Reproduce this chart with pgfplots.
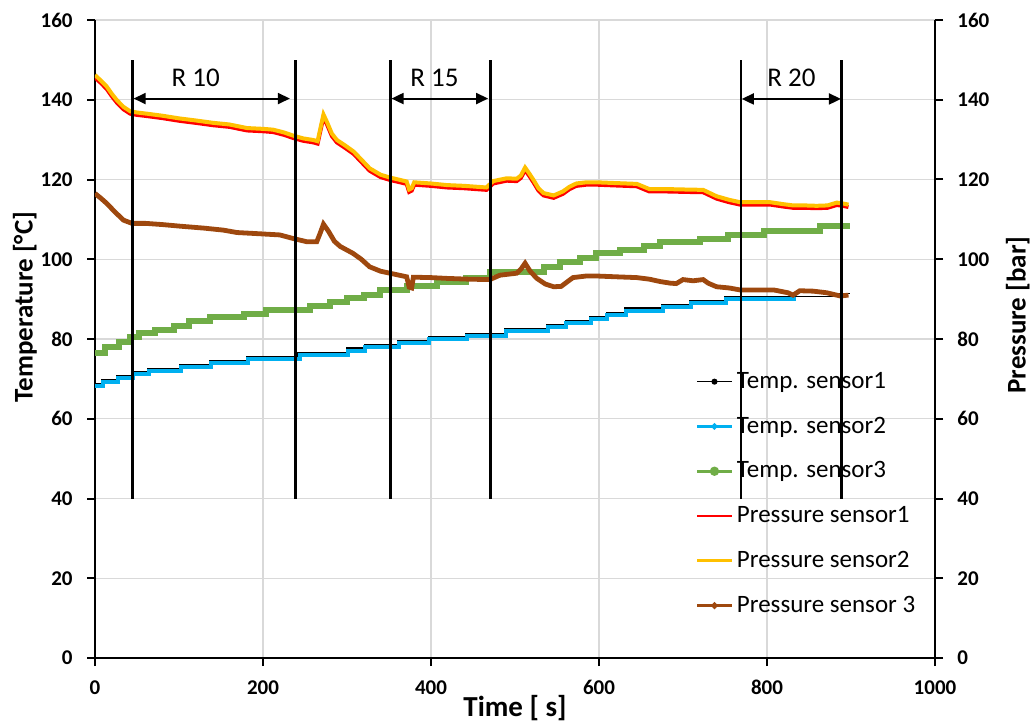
\documentclass[border=0pt]{standalone}
\usepackage{fontspec}
\setmainfont{Carlito}
\usepackage{pgfplots}
\pgfplotsset{compat=1.18}
\usetikzlibrary{arrows.meta,calc}

\definecolor{tblack}{RGB}{0,0,0}
\definecolor{tblue}{RGB}{0,176,240}
\definecolor{tgreen}{RGB}{112,173,71}
\definecolor{pred}{RGB}{255,0,0}
\definecolor{pyellow}{RGB}{255,192,0}
\definecolor{pbrown}{RGB}{158,72,14}
\definecolor{gridgray}{RGB}{217,217,217}

\pgfplotsset{
  base/.style={
    width=420pt, height=319pt, scale only axis,
    xmin=0, xmax=1000, ymin=0, ymax=160,
    xtick={0,200,...,1000}, ytick={0,20,...,160},
    /pgf/number format/assume math mode=true,
    /pgf/number format/1000 sep={},
    tick label style={font=\fontsize{10.5}{12}\selectfont\bfseries, inner sep=0pt},
    tick align=outside, major tick length=4pt,
    tick style={line width=1pt, black},
    axis line style={line width=1.4pt, -},
  },
}

\begin{document}
\begin{tikzpicture}
\begin{axis}[base, name=ax,
  axis x line*=bottom, axis y line*=left,
  grid=major, grid style={gridgray, line width=0.6pt},
  xticklabel style={yshift=-7pt},
  yticklabel style={xshift=-7pt},
  xlabel={Time [ s]}, ylabel={Temperature [°C]},
  every axis x label/.style={at={(axis description cs:0.5,0)}, anchor=base, yshift=-29.3pt,
    font=\fontsize{14.5}{16}\selectfont\bfseries},
  every axis y label/.style={at={(axis description cs:0,0.55)}, xshift=-31.2pt, rotate=90, anchor=base,
    font=\fontsize{13.5}{16}\selectfont\bfseries},
  legend style={draw=none, fill=none, at={(0.715,0.455)}, anchor=north west,
    font=\fontsize{12.5}{15}\selectfont, row sep=8.8pt, inner sep=0pt,
    /tikz/every even column/.append style={column sep=2pt}},
  legend cell align=left,
]
% Temp. sensor1
\addplot[tblack, line width=0.8pt, const plot, forget plot] coordinates {
(0,68.7)(8,69.7)(26,70.7)(44,71.7)(63,72.6)(101,73.6)(137,74.6)(181,75.6)(242,76.6)
(300,77.7)(321,78.6)(361,79.5)(397,80.5)(442,81.4)(488,82.6)(538,83.6)(560,84.5)
(589,85.6)(609,86.6)(631,87.7)(675,88.6)(708,89.7)(750,90.7)(887,91.4)(899,91.4)};
% Temp. sensor2
\addplot[tblue, line width=2pt, const plot, forget plot] coordinates {
(0,68.1)(9,69.1)(27,70.1)(45,71.1)(64,72.0)(102,73.0)(138,74.0)(182,75.0)(244,76.0)
(301,77.1)(322,78.0)(362,78.9)(398,79.9)(443,80.8)(489,82.0)(539,83.0)(561,83.9)
(590,85.0)(610,86.0)(632,87.1)(676,88.0)(709,89.1)(751,90.1)(835,90.1)};
% Temp. sensor3
\addplot[tgreen, line width=3pt, const plot, forget plot] coordinates {
(0,76.6)(12,78.1)(28,79.3)(42,80.6)(52,81.4)(72,82.3)(94,83.3)(112,84.4)(137,85.4)
(177,86.3)(204,87.3)(256,88.3)(280,89.3)(300,90.3)(320,91.1)(339,92.3)(371,93.4)
(407,94.2)(442,95.3)(470,96.7)(534,98.1)(554,99.4)(577,100.2)(597,101.5)(625,102.3)
(653,103.2)(673,104.3)(720,105.1)(754,106.1)(796,107.2)(863,108.3)(899,108.3)};
% Pressure sensor1
\addplot[pred, line width=2pt, forget plot] coordinates {
(0,145.6)(7,144.2)(14,142.7)(20,140.9)(26,139.3)(34,137.6)(42,136.5)(50,136.2)(62,135.9)
(80,135.4)(101,134.7)(120,134.2)(141,133.6)(160,133.2)(181,132.3)(200,132.1)(212,131.9)
(225,131.2)(236,130.4)(248,129.7)(260,129.3)(265,129.0)(268,131.9)(272,135.7)(276,133.9)
(282,130.9)(288,129.3)(298,127.9)(308,126.4)(318,124.2)(327,122.2)(340,120.6)(351,119.9)
(365,119.2)(371,118.9)(374,116.9)(377,117.2)(380,118.7)(400,118.4)(419,118.0)(440,117.8)
(466,117.4)(474,119.0)(490,119.7)(502,119.6)(507,120.4)(512,122.4)(517,120.9)(522,119.3)
(528,117.2)(534,116.0)(546,115.4)(557,116.4)(565,117.6)(573,118.4)(585,118.7)(597,118.7)
(620,118.5)(645,118.3)(660,117.0)(680,117.0)(700,116.9)(724,116.8)(740,115.2)(755,114.3)
(768,113.7)(790,113.7)(804,113.7)(820,113.2)(831,112.9)(845,112.9)(859,112.8)(872,112.9)
(883,113.6)(890,113.4)(897,113.1)};
% Pressure sensor2
\addplot[pyellow, line width=2pt, forget plot] coordinates {
(0,146.2)(7,144.8)(14,143.3)(20,141.5)(26,139.9)(34,138.2)(42,137.1)(50,136.8)(62,136.5)
(80,136.0)(101,135.3)(120,134.8)(141,134.2)(160,133.8)(181,132.9)(200,132.7)(212,132.5)
(225,131.8)(236,131.0)(248,130.3)(260,129.9)(265,129.6)(268,132.5)(272,136.3)(276,134.5)
(282,131.5)(288,129.9)(298,128.5)(308,127.0)(318,124.8)(327,122.8)(340,121.2)(351,120.5)
(365,119.8)(371,119.5)(374,117.5)(377,117.8)(380,119.3)(400,119.0)(419,118.6)(440,118.4)
(466,118.0)(474,119.6)(490,120.3)(502,120.2)(507,121.0)(512,123.0)(517,121.5)(522,119.9)
(528,117.8)(534,116.6)(546,116.0)(557,117.0)(565,118.2)(573,119.0)(585,119.3)(597,119.3)
(620,119.1)(645,118.9)(660,117.6)(680,117.6)(700,117.5)(724,117.4)(740,115.8)(755,114.9)
(768,114.3)(790,114.3)(804,114.3)(820,113.8)(831,113.5)(845,113.5)(859,113.4)(872,113.5)
(883,114.2)(890,114.0)(897,113.7)};
% Pressure sensor 3
\addplot[pbrown, line width=2.4pt, forget plot] coordinates {
(0,116.5)(7,115.3)(14,114.0)(24,111.8)(34,109.8)(44,109.0)(60,109.0)(80,108.7)(101,108.3)
(130,107.8)(153,107.3)(169,106.7)(195,106.4)(220,106.1)(236,105.2)(252,104.4)(264,104.4)
(268,106.5)(272,108.8)(278,107.0)(285,104.5)(292,103.2)(307,101.5)(317,100.0)(327,98.1)
(340,97.0)(351,96.5)(371,95.6)(374,93.0)(377,92.8)(379,95.5)(400,95.4)(419,95.2)(445,95.0)
(470,94.9)(482,96.0)(502,96.5)(507,97.5)(512,99.0)(518,97.0)(526,95.2)(536,93.8)(546,93.1)
(555,93.2)(562,94.3)(569,95.4)(585,95.8)(597,95.8)(620,95.6)(645,95.4)(660,95.0)(673,94.4)
(685,94.0)(692,93.9)(700,94.9)(712,94.6)(724,94.9)(730,94.0)(740,93.1)(755,92.8)(768,92.3)
(790,92.3)(808,92.3)(825,91.6)(831,91.0)(839,92.1)(855,92.0)(871,91.6)(887,90.8)(897,91.0)};
% range markers
\pgfplotsinvokeforeach{45,239,352,471,769,889}{
  \addplot[black, line width=1.4pt, forget plot] coordinates {(#1,40)(#1,150)};
}
\addplot[black, line width=1pt, {Triangle[length=6pt,width=5.5pt]}-{Triangle[length=6pt,width=5.5pt]}, forget plot]
  coordinates {(46,140.3)(232,140.3)};
\addplot[black, line width=1pt, {Triangle[length=6pt,width=5.5pt]}-{Triangle[length=6pt,width=5.5pt]}, forget plot]
  coordinates {(353,140.3)(468,140.3)};
\addplot[black, line width=1pt, {Triangle[length=6pt,width=5.5pt]}-{Triangle[length=6pt,width=5.5pt]}, forget plot]
  coordinates {(770,140.2)(888,140.2)};
\node[anchor=base, font=\fontsize{13.5}{16}\selectfont] at (axis cs:120,143.4) {R 10};
\node[anchor=base, font=\fontsize{13.5}{16}\selectfont] at (axis cs:404,143.4) {R 15};
\node[anchor=base, font=\fontsize{13.5}{16}\selectfont] at (axis cs:829,143.4) {R 20};
% legend
\addlegendimage{tblack, line width=0.8pt, mark=*, mark size=1.1pt}
\addlegendentry{Temp. sensor1}
\addlegendimage{tblue, line width=1.4pt, mark=*, mark size=0.8pt}
\addlegendentry{Temp. sensor2}
\addlegendimage{tgreen, line width=1.4pt, mark=*, mark size=1.6pt}
\addlegendentry{Temp. sensor3}
\addlegendimage{pred, line width=1.4pt}
\addlegendentry{Pressure sensor1}
\addlegendimage{pyellow, line width=1.4pt}
\addlegendentry{Pressure sensor2}
\addlegendimage{pbrown, line width=1.4pt, mark=*, mark size=0.9pt}
\addlegendentry{Pressure sensor 3}
\end{axis}
\begin{axis}[base,
  axis x line=none, axis y line*=right,
  yticklabel style={xshift=7pt},
  ylabel={Pressure [bar]},
  every axis y label/.style={at={(axis description cs:1,0.5376)}, xshift=45.3pt, rotate=90, anchor=base,
    font=\fontsize{13.5}{16}\selectfont\bfseries},
]
\addplot[draw=none] coordinates {(0,0)(1000,160)};
\end{axis}
\pgfresetboundingbox
\useasboundingbox ($(ax.south west)+(-47.5pt,-32.5pt)$) rectangle ($(ax.north east)+(48.5pt,10pt)$);
\end{tikzpicture}
\end{document}
